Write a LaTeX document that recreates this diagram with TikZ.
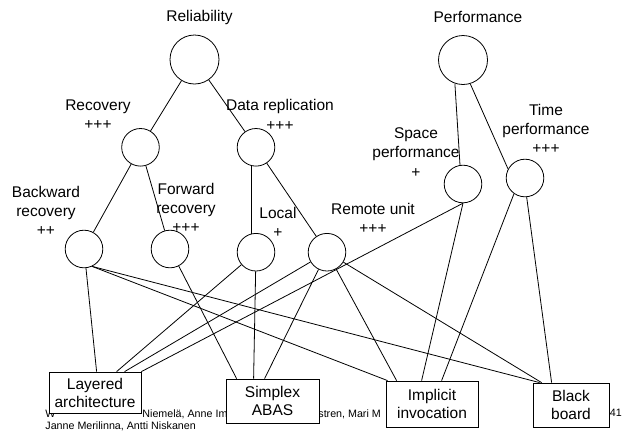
\documentclass[tikz,border=0pt]{standalone}
\usepackage{fontspec}
\setmainfont{Liberation Sans}
\usetikzlibrary{calc}

\begin{document}
\begin{tikzpicture}[x=1pt, y=-1pt, line width=0.8pt,
        every node/.style={font=\fontsize{15.5}{19.3}\selectfont},
        bigq/.style={circle, draw, minimum size=49pt, inner sep=0pt},
        smallq/.style={circle, draw, minimum size=37.6pt, inner sep=0pt},
        archbox/.style={draw, fill=white, align=center, inner sep=0pt,
            font=\fontsize{15.5}{18}\selectfont},
        lbl/.style={align=center, inner sep=0pt},
        foot/.style={font=\fontsize{10.7}{12}\selectfont, inner sep=0pt, anchor=west}]
        \useasboundingbox (0,0) rectangle (622,432);

        % Footer (partly hidden by the boxes)
        \node[foot] (f1) at (45,414) {W};
        \node[foot] (f2) at (142,414) {Niemelä, Anne Im};
        \node[foot] (f3) at (318,414) {stren, Mari M};
        \node[foot] (f4) at (45,426.5) {Janne Merilinna, Antti Niskanen};
        \node[foot] (pg) at (609.5,413) {41};

        % Architecture styles
        \node[archbox, minimum width=92pt, minimum height=41pt] (lay) at (95,392.5) {Layered\\architecture};
        \node[archbox, minimum width=93pt, minimum height=44pt] (smp) at (272.5,401) {Simplex\\ABAS};
        \node[archbox, minimum width=92pt, minimum height=46pt] (imp) at (432,404) {Implicit\\invocation};
        \node[archbox, minimum width=76pt, minimum height=44pt] (blk) at (571,405) {Black\\board};

        % Quality attributes
        \node[bigq] (rel) at (194.5,59.5) {};
        \node[bigq] (perf) at (463,60) {};
        \node[smallq] (rec) at (140.5,147.3) {};
        \node[smallq] (drep) at (256,147.3) {};
        \node[smallq] (spc) at (463,184) {};
        \node[smallq] (tim) at (525,178) {};
        \node[smallq] (bwd) at (84,249) {};
        \node[smallq] (fwd) at (170,249) {};
        \node[smallq] (loc) at (256,252.2) {};
        \node[smallq] (rem) at (327,252.2) {};

        % Labels
        \node[lbl] (relL) at (199.5,17) {Reliability};
        \node[lbl] (perfL) at (478,17) {Performance};
        \node[lbl] (recL) at (98,115) {Recovery\\+++};
        \node[lbl] (drepL) at (280,115) {Data replication\\+++};
        \node[lbl] (bwdL) at (46,211) {Backward\\recovery\\++};
        \node[lbl] (fwdL) at (186,208) {Forward\\recovery\\+++};
        \node[lbl] (locL) at (278,222.5) {Local\\+};
        \node[lbl] (remL) at (373,218.5) {Remote unit\\+++};
        \node[lbl] (spcL) at (416,152.5) {Space\\performance\\+};
        \node[lbl] (timL) at (546,129) {Time\\performance\\+++};

        % Tree
        \draw (rel) -- (rec);
        \draw (rel) -- (drep);
        \draw (rec) -- (bwd);
        \draw (rec) -- (fwd);
        \draw (drep.255) -- (loc.105);
        \draw (drep) -- (rem);
        \draw (perf.251) -- (spc.99);
        \draw (perf.287) -- (tim.152);

        % Attributes to styles
        \draw (bwd) -- ([xshift=48pt]lay.north west);
        \draw (bwd.295) -- ([xshift=2pt]imp.north west);
        \draw (bwd.295) -- ([xshift=7pt]blk.north west);
        \draw (fwd) -- ([xshift=11pt]smp.north west);
        \draw (loc) -- ([xshift=68pt]lay.north west);
        \draw (loc) -- ([xshift=28pt]smp.north west);
        \draw (rem) -- ([xshift=76pt]lay.north west);
        \draw (rem) -- ([xshift=39pt]smp.north west);
        \draw (rem) -- ([xshift=11pt]imp.north west);
        \draw (rem) -- ([xshift=9pt]blk.north west);
        \draw (spc.south) -- (lay.north east);
        \draw (spc.south) -- ([xshift=36pt]imp.north west);
        \draw (tim.235) -- ([xshift=56pt]imp.north west);
        \draw (tim.275) -- ([xshift=19pt]blk.north west);
    \end{tikzpicture}
\end{document}
